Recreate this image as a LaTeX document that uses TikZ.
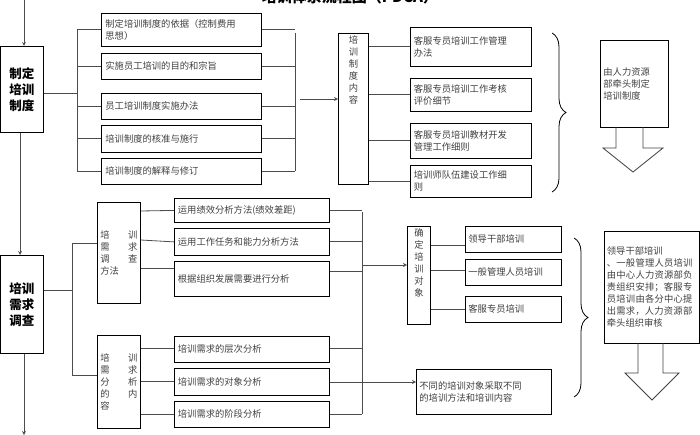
\documentclass[tikz,border=0pt]{standalone}
\usepackage{fontspec}
\setmainfont{Noto Sans CJK SC}
\XeTeXlinebreaklocale "zh"
\XeTeXlinebreakskip=0pt plus 1pt
\usetikzlibrary{decorations.pathreplacing}

\begin{document}
\begin{tikzpicture}[
  x=1pt,
  y=-1pt, % <-- pixel grid, y runs down
  >=stealth,
  every node/.style={font=\fontsize{9.3}{12}\selectfont, text=black!75},
  box/.style={draw, thick, anchor=north west, inner sep=3pt, align=left},
  head/.style={draw, thick, anchor=north west, align=center, font=\fontsize{12.5}{16}\selectfont\bfseries, text=black},
  vbox/.style={draw, thick, anchor=north west, align=center, inner sep=2pt},
  link/.style={thick, black!70},
  brace/.style={thick, decorate, decoration={brace, amplitude=14pt}}
]
\useasboundingbox (0,0) rectangle (700,435);

% Title (cut by the page edge)
\node[font=\fontsize{15}{18}\selectfont\bfseries, text=black] (title) at (350,-3) {培训体系流程图（PDCA）};

% --- Part 1: training rules ---
\node[head, minimum width=43, minimum height=86] (zd) at (0,46) {制定\\培训\\制度};
\coordinate (top) at (24,0);
\draw[->, link] (top) -- (top|-zd.north);

\node[box, minimum width=160, minimum height=33, text width=152] (a1) at (101,13) {制定培训制度的依据（控制费用\\思想）};
\node[box, minimum width=160, minimum height=26, text width=152] (a2) at (101,53) {实施员工培训的目的和宗旨};
\node[box, minimum width=160, minimum height=26, text width=152] (a3) at (101,93) {员工培训制度实施办法};
\node[box, minimum width=160, minimum height=27, text width=152] (a4) at (101,125) {培训制度的核准与施行};
\node[box, minimum width=160, minimum height=26, text width=152] (a5) at (101,158) {培训制度的解释与修订};

\coordinate (busA) at (77,93);
\draw[link] (zd.east|-busA) -- (busA);
\draw[link] (busA|-a1.west) -- (busA|-a5.west);
\foreach \n in {a1,a2,a3,a4,a5}
  \draw[link] (busA|-\n.west) -- (\n.west);

\coordinate (busB) at (295,33);
\draw[link] (busB) -- (295,171);
\foreach \n in {a1,a2,a3,a4,a5}
  \draw[link] (\n.east) -- (busB|-\n.east);

\node[vbox, minimum width=30, minimum height=151] (nr) at (338,33) {培\\训\\制\\度\\内\\容\\[66pt]};
\coordinate (busC) at (300,99);
\draw[->, link] (busC) -- (busC-|nr.west);

\node[box, minimum width=121, minimum height=39, text width=114] (c1) at (410,27) {客服专员培训工作管理\\办法};
\node[box, minimum width=121, minimum height=33, text width=114] (c2) at (410,78) {客服专员培训工作考核\\评价细节};
\node[box, minimum width=121, minimum height=35, text width=114] (c3) at (410,123) {客服专员培训教材开发\\管理工作细则};
\node[box, minimum width=121, minimum height=32, text width=114] (c4) at (410,165) {培训师队伍建设工作细\\则};
\foreach \n in {c1,c2,c3,c4}
  \draw[link] (nr.east|-\n.west) -- (\n.west);

\draw[brace] (552,33) -- (552,192);

\node[box, minimum width=68, minimum height=87, text width=62] (rz) at (600,40) {由人力资源\\部牵头制定\\培训制度\\[34pt]};
\draw[thick, black!75] (616,127) -- (616,148) -- (603,148) -- (633,172) -- (663,148) -- (643,148) -- (643,127);

% --- Part 2: needs survey ---
\node[head, minimum width=43, minimum height=98] (xq) at (0,255) {培训\\需求\\调查};
\coordinate (mid) at (20,0);
\draw[->, link] (zd.south-|mid) -- (xq.north-|mid);
\coordinate (bot) at (24,435);
\draw[->, link] (xq.south-|bot) -- (bot);

\node[vbox, minimum width=43, minimum height=101, text width=37] (ff) at (97,202) {培\hfill 训\\需\hfill 求\\调\hfill 查\\方法\hfill\null\\[30pt]};
\node[vbox, minimum width=43, minimum height=93, text width=37] (nrr) at (97,335) {培\hfill 训\\需\hfill 求\\分\hfill 析\\的\hfill 内\\容\hfill\null};

\coordinate (busD) at (72,290);
\draw[link] (xq.east|-busD) -- (busD);
\draw[link] (72,243) -- (72,375);
\draw[link] (72,243) -- (ff.west|-0,243);
\draw[link] (72,375) -- (nrr.west|-0,375);

\node[box, minimum width=155, minimum height=24, text width=148] (b1) at (174,198) {运用绩效分析方法(绩效差距)};
\node[box, minimum width=155, minimum height=27, text width=148] (b2) at (174,228) {运用工作任务和能力分析方法};
\node[box, minimum width=155, minimum height=35, text width=148] (b3) at (174,261) {根据组织发展需要进行分析\\[10pt]};
\node[box, minimum width=155, minimum height=26, text width=148] (b4) at (174,336) {培训需求的层次分析};
\node[box, minimum width=155, minimum height=27, text width=148] (b5) at (174,368) {培训需求的对象分析};
\node[box, minimum width=155, minimum height=26, text width=148] (b6) at (174,401) {培训需求的阶段分析};
\draw[link] (ff.east|-0,211) -- (b1.west);
\draw[link] (ff.east|-0,240) -- (b2.west);
\draw[link] (ff.east|-0,268) -- (b3.west|-0,268);
\draw[link] (nrr.east|-0,348) -- (b4.west|-0,348);
\draw[link] (nrr.east|-0,381) -- (b5.west|-0,381);
\draw[link] (nrr.east|-0,414) -- (b6.west|-0,414);

\coordinate (busE) at (362,212);
\draw[link] (busE) -- (362,414);
\draw[link] (b1.east) -- (busE|-b1.east);
\draw[link] (b2.east) -- (busE|-b2.east);
\draw[link] (b3.east|-0,271) -- (362,271);
\draw[link] (b4.east|-0,348) -- (362,348);
\draw[link] (b5.east|-0,382) -- (362,382);
\draw[link] (b6.east|-0,414) -- (362,414);

\node[vbox, minimum width=23, minimum height=98] (dx) at (407,226) {确\\定\\培\\训\\对\\象\\[14pt]};
\draw[->, link] (362,265) -- (dx.west|-0,265);

\node[box, minimum width=96, minimum height=26, text width=90] (d1) at (465,226) {领导干部培训};
\node[box, minimum width=96, minimum height=26, text width=90] (d2) at (465,259) {一般管理人员培训};
\node[box, minimum width=96, minimum height=26, text width=90] (d3) at (465,296) {客服专员培训};
\draw[link] (dx.east|-0,245) -- (d1.west|-0,245);
\draw[link] (dx.east|-0,270) -- (d2.west|-0,270);
\draw[link] (dx.east|-0,309) -- (d3.west|-0,309);

\node[box, minimum width=135, minimum height=45, text width=129] (bt) at (416,369) {不同的培训对象采取不同\\的培训方法和培训内容\\[8pt]};
\draw[->, link] (362,382) -- (bt.west|-0,382);

\draw[brace] (574,238) -- (574,397);

\node[box, minimum width=95, minimum height=112, text width=90, inner sep=2pt] (ld) at (604,231) {领导干部培训\\、一般管理人员培训由中心人力资源部负责组织安排；客服专员培训由各分中心提出需求，人力资源部牵头组织审核};
\draw[thick, black!75] (638,343) -- (638,373) -- (625,373) -- (652,400) -- (679,373) -- (663,373) -- (663,343);
\end{tikzpicture}
\end{document}
